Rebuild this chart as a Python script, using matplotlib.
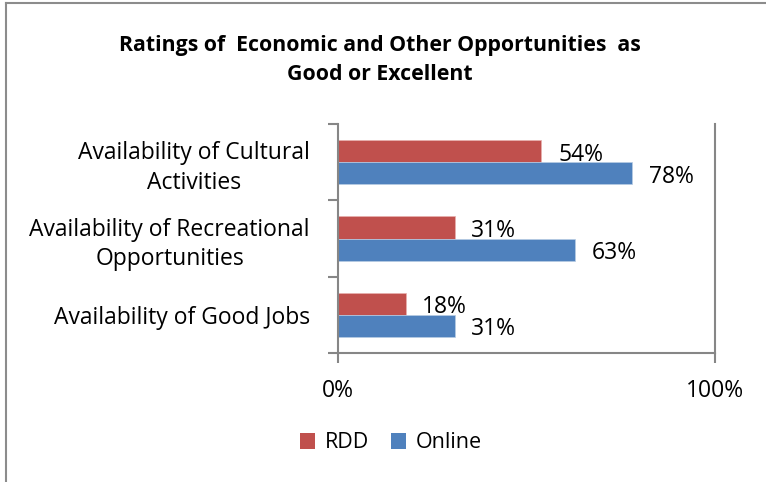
import matplotlib
matplotlib.use("Agg")
import matplotlib.pyplot as plt
from matplotlib.patches import Patch
from matplotlib.lines import Line2D
import numpy as np

plt.rcParams['font.family'] = ['Open Sans', 'DejaVu Sans']

categories = ["Availability of Cultural\nActivities",
              "Availability of Recreational\nOpportunities",
              "Availability of Good Jobs"]
series_names = ["RDD", "Online"]
rdd = [0.54, 0.31, 0.18]
online = [0.78, 0.63, 0.31]
xtick_labels = ["0%", "100%"]

red = "#C0504D"
blue = "#4F81BD"
gray = "#868686"
fs = 16.5

W, H = 766, 482
fig = plt.figure(figsize=(W / 100, H / 100), dpi=100)

# chart-area border (left and top only)
fig.add_artist(Line2D([6 / W, 6 / W], [0, 1 - 3 / H], color="#8c8c8c", lw=1.5,
                      transform=fig.transFigure))
fig.add_artist(Line2D([6 / W, 1], [1 - 3 / H, 1 - 3 / H], color="#8c8c8c", lw=1.5,
                      transform=fig.transFigure))

ax = fig.add_axes([337.7 / W, 129.3 / H, 377.3 / W, 228.4 / H])

n = len(categories)
ypos = np.arange(n)[::-1]
h = 0.29
ax.barh(ypos + h / 2, rdd, height=h, color=red, edgecolor="#e8b0ae", lw=0.5, label="RDD")
ax.barh(ypos - h / 2, online, height=h, color=blue, edgecolor="#b8cce4", lw=0.5, label="Online")

for y, v in zip(ypos + h / 2, rdd):
    ax.annotate(f"{round(v * 100)}%", (v, y), xytext=(12, -2.5), textcoords="offset points",
                ha="left", va="center", fontsize=fs)
for y, v in zip(ypos - h / 2, online):
    ax.annotate(f"{round(v * 100)}%", (v, y), xytext=(12, -2.5), textcoords="offset points",
                ha="left", va="center", fontsize=fs)

ax.set_xlim(0, 1)
ax.set_ylim(-0.5, n - 0.5)

ax.set_xticks([0, 1])
ax.set_xticklabels(xtick_labels, fontsize=fs)
ax.set_yticks(ypos)
ax.set_yticklabels(categories, fontsize=fs, multialignment="center", linespacing=1.3)
ax.set_yticks(np.arange(n + 1) - 0.5, minor=True)

ax.tick_params(axis="y", which="major", length=0, pad=20)
ax.tick_params(axis="y", which="minor", length=7, width=1.5, color=gray, direction="out")
ax.tick_params(axis="x", which="major", length=7, width=1.5, color=gray, direction="out", pad=12)

for side in ["left", "bottom", "right"]:
    ax.spines[side].set_color(gray)
    ax.spines[side].set_linewidth(1.5)
ax.spines["top"].set_visible(False)

fig.text(380 / W, 1 - 45 / H, "Ratings of  Economic and Other Opportunities  as",
         ha="center", va="center", fontsize=15.3, fontweight="bold")
fig.text(380 / W, 1 - 75 / H, "Good or Excellent",
         ha="center", va="center", fontsize=15.3, fontweight="bold")

handles = [Patch(facecolor=red, label="RDD"), Patch(facecolor=blue, label="Online")]
fig.legend(handles=handles, loc="center", bbox_to_anchor=(391 / W, 1 - 443 / H), ncol=2,
           frameon=False, fontsize=15.5, handlelength=0.7, handleheight=0.7,
           handletextpad=0.45, columnspacing=1.0)

fig.savefig("out.png", dpi=100, facecolor="white")
